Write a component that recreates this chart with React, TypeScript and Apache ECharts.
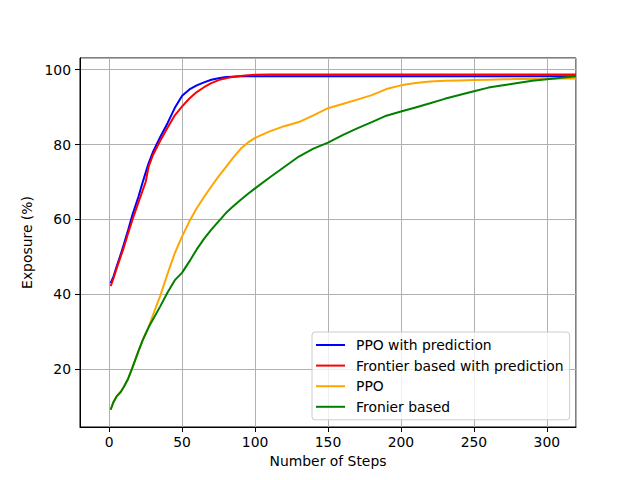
import React, { useEffect, useRef } from "react";
import * as echarts from "echarts";

const steps = [1, 3, 5, 8, 10, 13, 16, 20, 23, 25, 27, 30, 35, 40, 45, 50, 55, 60, 65, 70, 75, 80, 85, 90, 95, 100, 110, 120, 130, 140, 150, 160, 170, 180, 190, 200, 210, 220, 230, 240, 250, 260, 270, 280, 290, 300, 310, 320];

const ppoWithPrediction = [43.0, 44.8, 47.3, 50.8, 53.3, 57.2, 61.3, 66.0, 70.0, 72.5, 75.0, 78.0, 82.0, 85.7, 89.8, 93.0, 94.7, 95.8, 96.6, 97.3, 97.7, 98.0, 98.1, 98.2, 98.2, 98.2, 98.2, 98.2, 98.2, 98.2, 98.2, 98.2, 98.2, 98.2, 98.2, 98.2, 98.2, 98.2, 98.2, 98.2, 98.2, 98.2, 98.2, 98.2, 98.2, 98.2, 98.2, 98.2];

const frontierWithPrediction = [42.2, 44.3, 46.8, 50.2, 52.5, 56.3, 60.0, 64.5, 67.8, 70.0, 74.0, 77.2, 81.0, 84.5, 87.8, 90.2, 92.3, 94.0, 95.3, 96.4, 97.2, 97.7, 98.1, 98.3, 98.5, 98.6, 98.7, 98.7, 98.7, 98.7, 98.7, 98.7, 98.7, 98.7, 98.7, 98.7, 98.7, 98.7, 98.7, 98.7, 98.7, 98.7, 98.7, 98.7, 98.7, 98.7, 98.7, 98.7];

const ppo = [9.2, 11.3, 12.7, 14.0, 15.3, 17.5, 20.5, 24.8, 27.8, 29.5, 31.2, 34.5, 39.6, 45.5, 51.0, 55.5, 59.5, 63.0, 66.0, 68.8, 71.5, 74.0, 76.5, 78.8, 80.5, 81.8, 83.5, 84.9, 86.0, 87.8, 89.7, 90.8, 92.0, 93.2, 94.8, 95.8, 96.4, 96.8, 97.0, 97.1, 97.2, 97.3, 97.4, 97.5, 97.5, 97.5, 97.6, 97.6];

const fronierBased = [9.2, 11.3, 12.7, 14.0, 15.3, 17.5, 20.5, 24.8, 27.8, 29.5, 31.2, 33.3, 36.8, 40.5, 43.8, 45.8, 48.8, 52.0, 54.8, 57.3, 59.5, 61.7, 63.5, 65.2, 66.8, 68.3, 71.2, 74.0, 76.8, 78.9, 80.5, 82.5, 84.3, 86.0, 87.7, 88.8, 89.9, 91.0, 92.2, 93.2, 94.2, 95.2, 95.8, 96.4, 97.0, 97.4, 97.8, 98.2];

const seriesNames = ["PPO with prediction", "Frontier based with prediction", "PPO", "Fronier based"];
const seriesColors = ["#0000ff", "#ff0000", "#ffa500", "#008000"];
const seriesValues = [ppoWithPrediction, frontierWithPrediction, ppo, fronierBased];

export default function App() {
  const ref = useRef<HTMLDivElement>(null);
  useEffect(() => {
    document.body.style.margin = "0";
    const chart = echarts.init(ref.current!, null, { renderer: "svg" });
    const font = "DejaVu Sans";
    const fs = 13.9;
    chart.setOption({
      animation: false,
      backgroundColor: "#ffffff",
      textStyle: { fontFamily: font },
      grid: {
        left: 80,
        top: 58,
        right: 64,
        bottom: 53,
        show: true,
        borderColor: "#000000",
        borderWidth: 1,
        backgroundColor: "transparent",
      },
      xAxis: {
        type: "value",
        min: -20,
        max: 320,
        splitNumber: 7,
        name: "Number of Steps",
        nameLocation: "middle",
        nameGap: 27,
        nameTextStyle: { fontFamily: font, fontSize: fs, color: "#000" },
        axisLine: { show: true, onZero: false, lineStyle: { color: "#000", width: 1 } },
        axisTick: { show: true, length: 5, lineStyle: { color: "#000" } },
        axisLabel: { showMinLabel: false, showMaxLabel: false, margin: 8, fontFamily: font, fontSize: fs, color: "#000" },
        splitLine: { show: true, lineStyle: { color: "#b0b0b0", width: 1 } },
      },
      yAxis: {
        type: "value",
        min: 4.6,
        max: 103.1,
        splitNumber: 5,
        name: "Exposure (%)",
        nameLocation: "middle",
        nameGap: 44,
        nameTextStyle: { fontFamily: font, fontSize: fs, color: "#000" },
        axisLine: { show: true, onZero: false, lineStyle: { color: "#000", width: 1 } },
        axisTick: { show: true, length: 5, lineStyle: { color: "#000" } },
        axisLabel: { showMinLabel: false, showMaxLabel: false, margin: 9, fontFamily: font, fontSize: fs, color: "#000" },
        splitLine: { show: true, lineStyle: { color: "#b0b0b0", width: 1 } },
      },
      legend: {
        left: 312,
        top: 332,
        orient: "vertical",
        icon: "rect",
        itemWidth: 29,
        itemHeight: 2,
        itemGap: 4.6,
        padding: [5, 6, 5, 4],
        backgroundColor: "rgba(255,255,255,0.8)",
        borderColor: "#cccccc",
        borderWidth: 1,
        borderRadius: 3,
        textStyle: { fontFamily: font, fontSize: fs, color: "#000", padding: [0, 0, 0, 6], lineHeight: 16 },
        data: seriesNames,
      },
      series: seriesNames.map((name, k) => ({
        name,
        type: "line",
        data: steps.map((s, i) => [s, seriesValues[k][i]]),
        symbol: "none",
        showSymbol: false,
        lineStyle: { color: seriesColors[k], width: 2 },
        itemStyle: { color: seriesColors[k] },
        z: 2 + k,
      })),
    });
    return () => chart.dispose();
  }, []);
  return <div ref={ref} style={{ width: 640, height: 480 }} />;
}
